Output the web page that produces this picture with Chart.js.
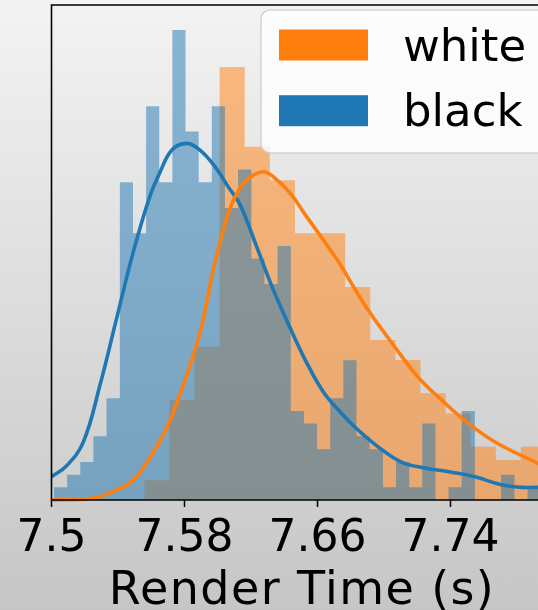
<!DOCTYPE html>
<html>
<head>
<meta charset="utf-8">
<script src="https://cdn.jsdelivr.net/npm/chart.js@4.4.1/dist/chart.umd.min.js"></script>
<style>
  html, body { margin: 0; padding: 0; width: 538px; height: 610px; overflow: hidden;
    background: linear-gradient(to bottom, #f3f3f3 0%, #c6c6c6 100%); }
  canvas { display: block; }
</style>
</head>
<body>
<canvas id="c" width="553" height="610"></canvas>
<script>
/* ---- data ---- */
// the axes run a little past the right edge of the picture
var X_MIN = 7.5, X_MAX = 7.8013;
var Y_MAX = 11.73;                       // density at the top spine
var tickValues = [7.5, 7.58, 7.66, 7.74];
var tickLabels = ['7.5', '7.58', '7.66', '7.74'];
var xLabel = 'Render Time (s)';
var legendLabels = ['white', 'black'];

// "black" histogram: bin edges and density per bin
var blackEdges = [7.5015, 7.5094, 7.5173, 7.5252, 7.5331, 7.5411, 7.5490, 7.5569, 7.5648, 7.5727,
  7.5806, 7.5885, 7.5964, 7.6043, 7.6122, 7.6202, 7.6281, 7.6360, 7.6439, 7.6518,
  7.6597, 7.6676, 7.6755, 7.6834, 7.6913, 7.6993, 7.7072, 7.7151, 7.7230, 7.7309,
  7.7388, 7.7467, 7.7546, 7.7625, 7.7704, 7.7784, 7.7863, 7.7942];
var blackDensity = [0.30, 0.60, 0.90, 1.51, 2.41, 7.53, 6.32, 9.33, 7.53, 11.14,
  8.73, 7.53, 9.33, 6.92, 7.83, 5.72, 5.12, 6.02, 2.11, 1.81,
  1.20, 2.41, 3.31, 1.51, 1.20, 0.30, 0.90, 0.30, 1.81, 0.00,
  0.30, 2.11, 0.00, 0.00, 0.60, 0.00, 0.30];

// "white" histogram
var whiteEdges = [7.5558, 7.5709, 7.5860, 7.6011, 7.6162, 7.6313, 7.6464, 7.6615, 7.6766,
  7.6917, 7.7068, 7.7219, 7.7370, 7.7521, 7.7672, 7.7823, 7.7974];
var whiteDensity = [0.47, 2.37, 3.63, 10.26, 8.37, 7.58, 6.32, 6.32, 5.05, 3.79,
  3.32, 2.53, 2.05, 1.26, 0.95, 1.26];

// KDE curves
var blackKdeX = [7.5000, 7.5091, 7.5191, 7.5292, 7.5392, 7.5492, 7.5592, 7.5653, 7.5723, 7.5813,
  7.5893, 7.5983, 7.6063, 7.6134, 7.6234, 7.6334, 7.6435, 7.6535, 7.6635, 7.6735,
  7.6824, 7.6964, 7.7104, 7.7245, 7.7405, 7.7546, 7.7706, 7.7826, 7.7926, 7.8013];
var blackKdeY = [0.55, 0.81, 1.37, 2.73, 4.31, 5.88, 7.20, 7.77, 8.29, 8.45,
  8.29, 7.90, 7.42, 7.00, 6.00, 4.98, 4.08, 3.25, 2.56, 2.09,
  1.73, 1.26, 0.90, 0.76, 0.66, 0.55, 0.36, 0.30, 0.30, 0.29];
var whiteKdeX = [7.5000, 7.5191, 7.5292, 7.5392, 7.5492, 7.5592, 7.5693, 7.5793, 7.5893, 7.5977,
  7.6063, 7.6134, 7.6194, 7.6274, 7.6334, 7.6435, 7.6535, 7.6635, 7.6735, 7.6803,
  7.6904, 7.7064, 7.7205, 7.7365, 7.7505, 7.7678, 7.7926, 7.8013];
var whiteKdeY = [0.00, 0.02, 0.08, 0.24, 0.47, 1.00, 1.71, 2.73, 3.96, 5.52,
  6.80, 7.40, 7.65, 7.78, 7.66, 7.27, 6.71, 6.16, 5.59, 5.14,
  4.50, 3.63, 2.91, 2.30, 1.82, 1.35, 0.87, 0.74];

/* ---- colours (matplotlib tab10) ---- */
var ORANGE = '#ff7f0e', BLUE = '#1f77b4';
var FONT = "'DejaVu Sans', sans-serif";

function stepPoints(edges, vals) {
  var pts = vals.map(function (v, i) { return { x: edges[i], y: v }; });
  pts.push({ x: edges[vals.length], y: 0 });
  return pts;
}
function xy(xs, ys) { return xs.map(function (x, i) { return { x: x, y: ys[i] }; }); }

/* spines: left, top, bottom (the right one falls outside the picture) */
var spines = {
  id: 'spines',
  afterDatasetsDraw: function (chart) {
    var a = chart.chartArea, ctx = chart.ctx;
    ctx.save();
    ctx.strokeStyle = '#000';
    ctx.lineWidth = 1.6;
    ctx.beginPath();
    ctx.moveTo(a.right + 5, a.top);
    ctx.lineTo(a.left, a.top);
    ctx.lineTo(a.left, a.bottom);
    ctx.lineTo(a.right + 5, a.bottom);
    ctx.stroke();
    ctx.restore();
  }
};

/* matplotlib-like legend box, upper right */
var legendBox = {
  id: 'legendBox',
  afterDraw: function (chart) {
    var ctx = chart.ctx;
    var x = 261, y = 10, w = 300, h = 143, r = 9;
    ctx.save();
    ctx.beginPath();
    ctx.roundRect(x, y, w, h, r);
    ctx.fillStyle = 'rgba(255,255,255,0.8)';
    ctx.fill();
    ctx.strokeStyle = 'rgba(204,204,204,0.8)';
    ctx.lineWidth = 1.5;
    ctx.stroke();
    var colors = [ORANGE, BLUE];
    ctx.font = '45px ' + FONT;
    ctx.textBaseline = 'alphabetic';
    ctx.textAlign = 'left';
    legendLabels.forEach(function (lab, i) {
      var top = 29.5 + i * 65.7;
      ctx.fillStyle = colors[i];
      ctx.fillRect(279, top, 89, 31);
      ctx.fillStyle = '#000';
      ctx.fillText(lab, 403, top + 31);
    });
    ctx.restore();
  }
};

Chart.defaults.font.family = FONT;

new Chart(document.getElementById('c'), {
  type: 'line',
  data: {
    datasets: [
      { label: 'white kde', data: xy(whiteKdeX, whiteKdeY), borderColor: ORANGE, borderWidth: 3.6,
        pointRadius: 0, tension: 0.4, fill: false, order: 1,
        clip: { left: 0, top: 0, right: 0, bottom: 4 } },
      { label: 'black kde', data: xy(blackKdeX, blackKdeY), borderColor: BLUE, borderWidth: 3.6,
        pointRadius: 0, tension: 0.4, fill: false, order: 2,
        clip: { left: 0, top: 0, right: 0, bottom: 4 } },
      { label: 'black', data: stepPoints(blackEdges, blackDensity), stepped: true,
        borderColor: 'rgba(0,0,0,0)', borderWidth: 0, pointRadius: 0,
        fill: 'origin', backgroundColor: 'rgba(31,119,180,0.5)', order: 3 },
      { label: 'white', data: stepPoints(whiteEdges, whiteDensity), stepped: true,
        borderColor: 'rgba(0,0,0,0)', borderWidth: 0, pointRadius: 0,
        fill: 'origin', backgroundColor: 'rgba(255,127,14,0.5)', order: 4 }
    ]
  },
  options: {
    responsive: false,
    animation: false,
    events: [],
    devicePixelRatio: 1,
    layout: { padding: { left: 51.5, right: 0.5, top: 5, bottom: 0 } },
    plugins: { legend: { display: false }, tooltip: { enabled: false } },
    scales: {
      x: {
        type: 'linear', min: X_MIN, max: X_MAX,
        afterBuildTicks: function (s) { s.ticks = tickValues.map(function (v) { return { value: v }; }); },
        afterFit: function (s) { s.height = 110; },
        afterUpdate: function (s) {
          // the reference label is set a little wider than plain DejaVu
          if (s._spaced) return;
          var orig = s.drawTitle;
          s.drawTitle = function () {
            s.ctx.save();
            s.ctx.letterSpacing = '1.4px';
            orig.apply(s, arguments);
            s.ctx.restore();
          };
          s._spaced = true;
        },
        grid: { drawOnChartArea: false, drawTicks: true, tickLength: 7, tickColor: '#000', tickWidth: 1.5 },
        border: { display: false },
        ticks: { autoSkip: false, maxRotation: 0, padding: 6, color: '#000',
          font: { size: 44, lineHeight: 1.2 },
          callback: function (v, i) { return tickLabels[i]; } },
        title: { display: true, text: xLabel, color: '#000',
          font: { size: 46, lineHeight: 0.9 }, padding: { top: 0, bottom: -3 } }
      },
      y: { display: false, min: 0, max: Y_MAX }
    }
  },
  plugins: [spines, legendBox]
});
</script>
</body>
</html>
